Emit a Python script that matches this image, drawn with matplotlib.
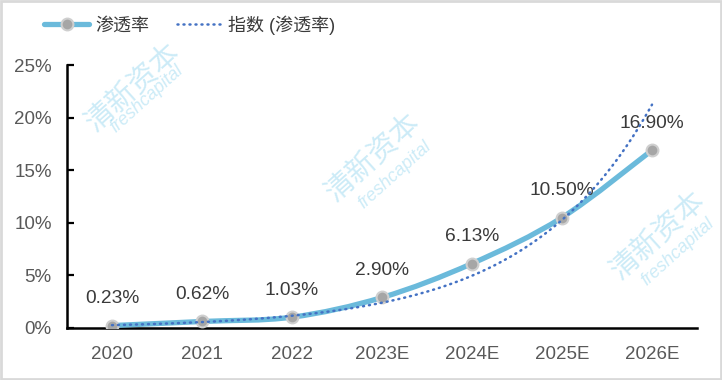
import numpy as np
import matplotlib
matplotlib.use('Agg')
from matplotlib import pyplot as plt
from matplotlib.path import Path
from matplotlib.patches import PathPatch, Rectangle
from matplotlib.lines import Line2D

plt.rcParams['font.family'] = ['Liberation Sans', 'Noto Sans CJK SC', 'DejaVu Sans']

# Data
years = ['2020', '2021', '2022', '2023E', '2024E', '2025E', '2026E']
rate = [0.23, 0.62, 1.03, 2.90, 6.13, 10.50, 16.90]   # 渗透率 (%)
labels = ['0.23%', '0.62%', '1.03%', '2.90%', '6.13%', '10.50%', '16.90%']
yticks = [0, 5, 10, 15, 20, 25]

line_col = '#6BBADB'
dot_col = '#4472C4'
txt_col = '#3A3A3A'
tick_col = '#595959'

fig = plt.figure(figsize=(7.22, 3.80), dpi=100)
ax = fig.add_axes([67/722, 1-328/380, 630/722, 263/380])
ax.set_facecolor('none')

x = np.arange(len(years))
y = np.array(rate)

# smoothed line (excel style bezier through points)
P = np.column_stack([x, y]).astype(float)
Pe = np.vstack([P[0], P, P[-1]])
verts = [tuple(P[0])]
codes = [Path.MOVETO]
for i in range(len(P) - 1):
    c1 = Pe[i+1] + (Pe[i+2] - Pe[i]) / 6
    c2 = Pe[i+2] - (Pe[i+3] - Pe[i+1]) / 6
    verts += [tuple(c1), tuple(c2), tuple(P[i+1])]
    codes += [Path.CURVE4] * 3
ax.add_patch(PathPatch(Path(verts, codes), facecolor='none', edgecolor=line_col,
                       lw=3.8, capstyle='round', joinstyle='round', zorder=3))
ax.plot(x, y, ls='none', marker='o', ms=8.5, mfc='#A6A6A6', mec='#CFCFCF', mew=1.5, zorder=4)

# exponential trend line of the series
b, a = np.polyfit(x, np.log(y), 1)
xt = np.linspace(0, len(years) - 1, 200)
ax.plot(xt, np.exp(a + b * xt), color=dot_col, lw=1.8, dashes=(0.4, 2.0),
        dash_capstyle='round', zorder=5)

for xi, yi, lab in zip(x, y, labels):
    ax.annotate(lab, (xi, yi), xytext=(0, 19.5), textcoords='offset points',
                ha='center', va='center', fontsize=13.8, color=txt_col)

ax.set_xlim(-0.5, len(years) - 0.5)
ax.set_ylim(0, 25)
ax.set_yticks(yticks)
ax.set_yticklabels([f'{t}%' for t in yticks])
ax.set_xticks(x)
ax.set_xticklabels(years)
ax.tick_params(axis='y', direction='in', length=5, width=1.6, pad=11,
               labelsize=13.5, labelcolor=tick_col)
ax.tick_params(axis='x', length=0, pad=13, labelsize=13.5, labelcolor=tick_col)
for s in ['top', 'right']:
    ax.spines[s].set_visible(False)
for s in ['left', 'bottom']:
    ax.spines[s].set_linewidth(1.8)
    ax.spines[s].set_color('black')

# legend
h1 = Line2D([], [], color=line_col, lw=3.8, marker='o', ms=8.5, mfc='#A6A6A6',
            mec='#CFCFCF', mew=1.5, solid_capstyle='round')
h2 = Line2D([], [], color=dot_col, lw=1.8, dashes=(0.4, 2.0), dash_capstyle='round')
fig.legend([h1, h2], ['渗透率', '指数 (渗透率)'], loc='center left',
           bbox_to_anchor=(28/722, 1-25/380), ncol=2, frameon=False,
           fontsize=13, handlelength=2.5, handletextpad=0.35, columnspacing=1.5,
           labelcolor=txt_col)

# watermarks
for cx, cy, fx, fy in [(133, 87, 147, 99), (373, 157, 395, 175), (658, 235, 678, 252)]:
    fig.text(cx/722, 1-cy/380, '清新资本', rotation=42, ha='center', va='center',
             fontsize=21, color='#8FD4EE', alpha=0.45, family=['Noto Sans CJK SC'], zorder=10)
    fig.text(fx/722, 1-fy/380, 'freshcapital', rotation=42, ha='center', va='center',
             fontsize=13, color='#8FD4EE', alpha=0.45, style='italic', zorder=10)

fig.patches.append(Rectangle((0.002, 0.003), 0.996, 0.994, transform=fig.transFigure,
                             fill=False, edgecolor='#D9D9D9', lw=2))

fig.savefig('out.png', dpi=100)
